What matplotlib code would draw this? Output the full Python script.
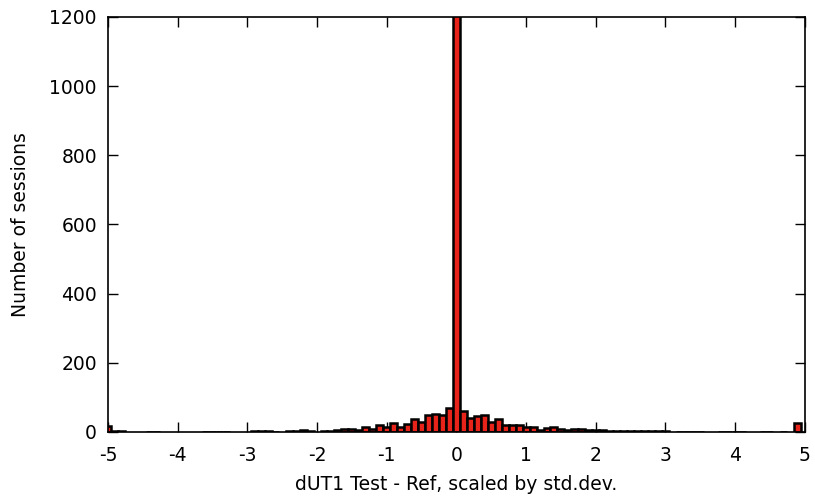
import matplotlib
matplotlib.use("Agg")
import matplotlib.pyplot as plt
import numpy as np

# Histogram bins: centres from -5.0 to 4.9 in steps of 0.1
bin_centers = np.round(np.arange(-50, 50) * 0.1, 1)

counts_by_center = {
    -5.0: 18, -4.9: 2, -4.8: 2, -4.4: 1, -4.3: 1,
    -3.6: 1, -3.5: 1, -3.4: 1, -3.3: 1,
    -2.9: 2, -2.8: 2, -2.7: 2, -2.6: 1,
    -2.4: 4, -2.3: 2, -2.2: 5, -2.1: 2,
    -1.9: 2, -1.8: 4, -1.7: 5, -1.6: 8, -1.5: 9, -1.4: 7,
    -1.3: 15, -1.2: 10, -1.1: 20, -1.0: 14, -0.9: 25, -0.8: 15,
    -0.7: 23, -0.6: 37, -0.5: 30, -0.4: 48, -0.3: 53, -0.2: 50,
    -0.1: 68, 0.0: 1240,
    0.1: 62, 0.2: 40, 0.3: 47, 0.4: 50, 0.5: 30, 0.6: 37,
    0.7: 20, 0.8: 20, 0.9: 20, 1.0: 13, 1.1: 15, 1.2: 7,
    1.3: 12, 1.4: 14, 1.5: 9, 1.6: 5, 1.7: 10, 1.8: 8, 1.9: 7,
    2.0: 5, 2.1: 5, 2.2: 3, 2.3: 2, 2.4: 2, 2.5: 3, 2.6: 2,
    2.7: 2, 2.8: 2, 2.9: 2, 3.0: 2,
    3.2: 1, 3.3: 1, 3.4: 1, 3.5: 1,
    3.8: 1, 3.9: 1, 4.0: 1, 4.1: 1,
    4.4: 1, 4.5: 1, 4.7: 1, 4.9: 25,
}

x_ticks = [-5, -4, -3, -2, -1, 0, 1, 2, 3, 4, 5]
y_ticks = [0, 200, 400, 600, 800, 1000, 1200]

centers = [c for c in bin_centers if counts_by_center.get(float(c), 0) > 0]
heights = [counts_by_center[float(c)] for c in centers]

plt.rcParams["font.family"] = ["DejaVu Sans"]

fig = plt.figure(figsize=(8.15, 4.97), dpi=100)
ax = fig.add_axes([0.1325, 0.1308, 0.855, 0.835])

ax.bar(centers, heights, width=0.1, color="#e8231a", edgecolor="black",
       linewidth=1.8, align="center", zorder=2)

ax.set_xlim(-5, 5)
ax.set_ylim(0, 1200)
ax.set_xticks(x_ticks)
ax.set_xticklabels([str(t) for t in x_ticks])
ax.set_yticks(y_ticks)

ax.tick_params(axis="both", which="major", direction="in", length=7,
               width=1.0, top=True, right=True, labelsize=13.5, pad=8)
ax.tick_params(axis="x", pad=10)
for spine in ax.spines.values():
    spine.set_linewidth(1.2)

ax.set_xlabel("dUT1 Test - Ref, scaled by std.dev.", fontsize=13.5, labelpad=7)
ax.set_ylabel("Number of sessions", fontsize=13.5, labelpad=14)

fig.savefig("out.png", dpi=100)
